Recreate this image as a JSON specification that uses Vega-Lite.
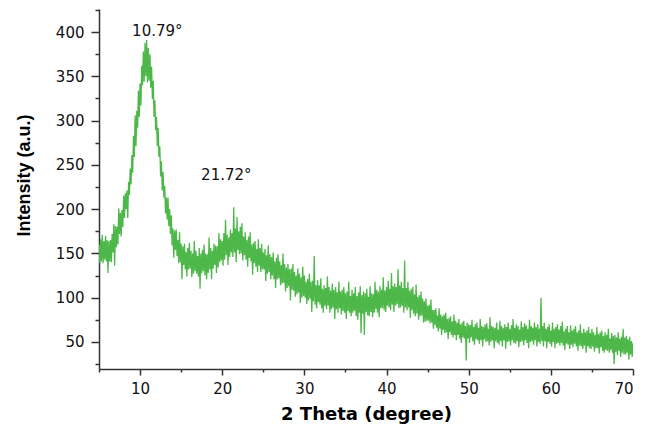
{
"$schema": "https://vega.github.io/schema/vega-lite/v6.json",
"width": 534,
"height": 360,
"autosize": {"type": "none"},
"padding": {"left": 99, "top": 9, "right": 20, "bottom": 57},
"background": "white",
"config": {"view": {"stroke": null}, "font": "DejaVu Sans"},
"resolve": {"axis": {"y": "independent"}},
"layer": [
{
"data": {"values": [
{"x":5.0,"y":160},{"x":5.1,"y":139},{"x":5.2,"y":166},{"x":5.3,"y":141},{"x":5.4,"y":171},{"x":5.5,"y":139},{"x":5.6,"y":164},{"x":5.7,"y":143},{"x":5.8,"y":170},{"x":5.9,"y":141},
{"x":6.0,"y":165},{"x":6.1,"y":128},{"x":6.2,"y":164},{"x":6.3,"y":141},{"x":6.4,"y":165},{"x":6.5,"y":140},{"x":6.6,"y":172},{"x":6.7,"y":151},{"x":6.8,"y":183},{"x":6.9,"y":136},
{"x":7.0,"y":181},{"x":7.1,"y":157},{"x":7.2,"y":180},{"x":7.3,"y":160},{"x":7.4,"y":201},{"x":7.5,"y":172},{"x":7.6,"y":196},{"x":7.7,"y":169},{"x":7.8,"y":199},{"x":7.9,"y":180},
{"x":8.0,"y":215},{"x":8.1,"y":190},{"x":8.2,"y":218},{"x":8.3,"y":200},{"x":8.4,"y":221},{"x":8.5,"y":190},{"x":8.6,"y":231},{"x":8.7,"y":216},{"x":8.8,"y":246},{"x":8.9,"y":228},
{"x":9.0,"y":261},{"x":9.1,"y":241},{"x":9.2,"y":283},{"x":9.3,"y":259},{"x":9.4,"y":306},{"x":9.5,"y":271},{"x":9.6,"y":311},{"x":9.7,"y":292},{"x":9.8,"y":334},{"x":9.9,"y":304},
{"x":10.0,"y":342},{"x":10.1,"y":317},{"x":10.2,"y":362},{"x":10.3,"y":340},{"x":10.4,"y":378},{"x":10.5,"y":344},{"x":10.6,"y":388},{"x":10.7,"y":350},{"x":10.8,"y":391},{"x":10.9,"y":343},
{"x":11.0,"y":382},{"x":11.1,"y":345},{"x":11.2,"y":375},{"x":11.3,"y":337},{"x":11.4,"y":361},{"x":11.5,"y":324},{"x":11.6,"y":345},{"x":11.7,"y":304},{"x":11.8,"y":323},{"x":11.9,"y":289},
{"x":12.0,"y":304},{"x":12.1,"y":271},{"x":12.2,"y":292},{"x":12.3,"y":259},{"x":12.4,"y":271},{"x":12.5,"y":237},{"x":12.6,"y":254},{"x":12.7,"y":221},{"x":12.8,"y":242},{"x":12.9,"y":213},
{"x":13.0,"y":226},{"x":13.1,"y":195},{"x":13.2,"y":213},{"x":13.3,"y":188},{"x":13.4,"y":213},{"x":13.5,"y":181},{"x":13.6,"y":200},{"x":13.7,"y":172},{"x":13.8,"y":193},{"x":13.9,"y":159},
{"x":14.0,"y":178},{"x":14.1,"y":145},{"x":14.2,"y":176},{"x":14.3,"y":154},{"x":14.4,"y":177},{"x":14.5,"y":147},{"x":14.6,"y":165},{"x":14.7,"y":139},{"x":14.8,"y":174},{"x":14.9,"y":140},
{"x":15.0,"y":161},{"x":15.1,"y":121},{"x":15.2,"y":158},{"x":15.3,"y":137},{"x":15.4,"y":161},{"x":15.5,"y":132},{"x":15.6,"y":152},{"x":15.7,"y":124},{"x":15.8,"y":156},{"x":15.9,"y":132},
{"x":16.0,"y":162},{"x":16.1,"y":133},{"x":16.2,"y":153},{"x":16.3,"y":123},{"x":16.4,"y":150},{"x":16.5,"y":127},{"x":16.6,"y":164},{"x":16.7,"y":130},{"x":16.8,"y":153},{"x":16.9,"y":127},
{"x":17.0,"y":147},{"x":17.1,"y":124},{"x":17.2,"y":156},{"x":17.3,"y":110},{"x":17.4,"y":150},{"x":17.5,"y":128},{"x":17.6,"y":154},{"x":17.7,"y":130},{"x":17.8,"y":160},{"x":17.9,"y":125},
{"x":18.0,"y":150},{"x":18.1,"y":121},{"x":18.2,"y":149},{"x":18.3,"y":128},{"x":18.4,"y":168},{"x":18.5,"y":132},{"x":18.6,"y":156},{"x":18.7,"y":121},{"x":18.8,"y":153},{"x":18.9,"y":133},
{"x":19.0,"y":161},{"x":19.1,"y":137},{"x":19.2,"y":159},{"x":19.3,"y":128},{"x":19.4,"y":158},{"x":19.5,"y":134},{"x":19.6,"y":173},{"x":19.7,"y":140},{"x":19.8,"y":166},{"x":19.9,"y":142},
{"x":20.0,"y":164},{"x":20.1,"y":136},{"x":20.2,"y":173},{"x":20.3,"y":143},{"x":20.4,"y":188},{"x":20.5,"y":148},{"x":20.6,"y":171},{"x":20.7,"y":137},{"x":20.8,"y":168},{"x":20.9,"y":146},
{"x":21.0,"y":177},{"x":21.1,"y":151},{"x":21.2,"y":173},{"x":21.3,"y":146},{"x":21.4,"y":202},{"x":21.5,"y":151},{"x":21.6,"y":178},{"x":21.7,"y":140},{"x":21.8,"y":191},{"x":21.9,"y":154},
{"x":22.0,"y":175},{"x":22.1,"y":149},{"x":22.2,"y":180},{"x":22.3,"y":150},{"x":22.4,"y":184},{"x":22.5,"y":142},{"x":22.6,"y":169},{"x":22.7,"y":148},{"x":22.8,"y":174},{"x":22.9,"y":143},
{"x":23.0,"y":165},{"x":23.1,"y":135},{"x":23.2,"y":169},{"x":23.3,"y":145},{"x":23.4,"y":174},{"x":23.5,"y":141},{"x":23.6,"y":160},{"x":23.7,"y":126},{"x":23.8,"y":162},{"x":23.9,"y":139},
{"x":24.0,"y":164},{"x":24.1,"y":135},{"x":24.2,"y":155},{"x":24.3,"y":129},{"x":24.4,"y":166},{"x":24.5,"y":136},{"x":24.6,"y":156},{"x":24.7,"y":129},{"x":24.8,"y":161},{"x":24.9,"y":132},
{"x":25.0,"y":151},{"x":25.1,"y":132},{"x":25.2,"y":155},{"x":25.3,"y":119},{"x":25.4,"y":148},{"x":25.5,"y":127},{"x":25.6,"y":159},{"x":25.7,"y":129},{"x":25.8,"y":149},{"x":25.9,"y":121},
{"x":26.0,"y":146},{"x":26.1,"y":125},{"x":26.2,"y":151},{"x":26.3,"y":121},{"x":26.4,"y":141},{"x":26.5,"y":111},{"x":26.6,"y":145},{"x":26.7,"y":121},{"x":26.8,"y":149},{"x":26.9,"y":122},
{"x":27.0,"y":141},{"x":27.1,"y":114},{"x":27.2,"y":137},{"x":27.3,"y":116},{"x":27.4,"y":150},{"x":27.5,"y":117},{"x":27.6,"y":138},{"x":27.7,"y":107},{"x":27.8,"y":134},{"x":27.9,"y":111},
{"x":28.0,"y":138},{"x":28.1,"y":113},{"x":28.2,"y":132},{"x":28.3,"y":97},{"x":28.4,"y":133},{"x":28.5,"y":109},{"x":28.6,"y":138},{"x":28.7,"y":108},{"x":28.8,"y":129},{"x":28.9,"y":101},
{"x":29.0,"y":125},{"x":29.1,"y":104},{"x":29.2,"y":133},{"x":29.3,"y":106},{"x":29.4,"y":127},{"x":29.5,"y":94},{"x":29.6,"y":123},{"x":29.7,"y":100},{"x":29.8,"y":135},{"x":29.9,"y":102},
{"x":30.0,"y":125},{"x":30.1,"y":100},{"x":30.2,"y":118},{"x":30.3,"y":93},{"x":30.4,"y":121},{"x":30.5,"y":97},{"x":30.6,"y":127},{"x":30.7,"y":99},{"x":30.8,"y":118},{"x":30.9,"y":84},
{"x":31.0,"y":119},{"x":31.1,"y":96},{"x":31.2,"y":147},{"x":31.3,"y":92},{"x":31.4,"y":114},{"x":31.5,"y":88},{"x":31.6,"y":120},{"x":31.7,"y":95},{"x":31.8,"y":114},{"x":31.9,"y":92},
{"x":32.0,"y":122},{"x":32.1,"y":88},{"x":32.2,"y":110},{"x":32.3,"y":83},{"x":32.4,"y":114},{"x":32.5,"y":91},{"x":32.6,"y":111},{"x":32.7,"y":87},{"x":32.8,"y":124},{"x":32.9,"y":91},
{"x":33.0,"y":112},{"x":33.1,"y":83},{"x":33.2,"y":108},{"x":33.3,"y":87},{"x":33.4,"y":116},{"x":33.5,"y":89},{"x":33.6,"y":109},{"x":33.7,"y":76},{"x":33.8,"y":112},{"x":33.9,"y":87},
{"x":34.0,"y":106},{"x":34.1,"y":83},{"x":34.2,"y":118},{"x":34.3,"y":88},{"x":34.4,"y":107},{"x":34.5,"y":81},{"x":34.6,"y":109},{"x":34.7,"y":85},{"x":34.8,"y":112},{"x":34.9,"y":83},
{"x":35.0,"y":105},{"x":35.1,"y":76},{"x":35.2,"y":107},{"x":35.3,"y":85},{"x":35.4,"y":118},{"x":35.5,"y":83},{"x":35.6,"y":102},{"x":35.7,"y":79},{"x":35.8,"y":109},{"x":35.9,"y":83},
{"x":36.0,"y":105},{"x":36.1,"y":85},{"x":36.2,"y":112},{"x":36.3,"y":79},{"x":36.4,"y":102},{"x":36.5,"y":75},{"x":36.6,"y":106},{"x":36.7,"y":83},{"x":36.8,"y":113},{"x":36.9,"y":60},
{"x":37.0,"y":103},{"x":37.1,"y":82},{"x":37.2,"y":107},{"x":37.3,"y":58},{"x":37.4,"y":105},{"x":37.5,"y":84},{"x":37.6,"y":110},{"x":37.7,"y":80},{"x":37.8,"y":101},{"x":37.9,"y":79},
{"x":38.0,"y":113},{"x":38.1,"y":84},{"x":38.2,"y":105},{"x":38.3,"y":78},{"x":38.4,"y":104},{"x":38.5,"y":83},{"x":38.6,"y":118},{"x":38.7,"y":87},{"x":38.8,"y":109},{"x":38.9,"y":83},
{"x":39.0,"y":107},{"x":39.1,"y":78},{"x":39.2,"y":113},{"x":39.3,"y":88},{"x":39.4,"y":109},{"x":39.5,"y":88},{"x":39.6,"y":123},{"x":39.7,"y":86},{"x":39.8,"y":108},{"x":39.9,"y":84},
{"x":40.0,"y":112},{"x":40.1,"y":91},{"x":40.2,"y":119},{"x":40.3,"y":89},{"x":40.4,"y":110},{"x":40.5,"y":86},{"x":40.6,"y":128},{"x":40.7,"y":92},{"x":40.8,"y":113},{"x":40.9,"y":84},
{"x":41.0,"y":116},{"x":41.1,"y":91},{"x":41.2,"y":112},{"x":41.3,"y":93},{"x":41.4,"y":132},{"x":41.5,"y":88},{"x":41.6,"y":114},{"x":41.7,"y":89},{"x":41.8,"y":118},{"x":41.9,"y":91},
{"x":42.0,"y":111},{"x":42.1,"y":83},{"x":42.2,"y":142},{"x":42.3,"y":89},{"x":42.4,"y":111},{"x":42.5,"y":86},{"x":42.6,"y":118},{"x":42.7,"y":89},{"x":42.8,"y":108},{"x":42.9,"y":77},
{"x":43.0,"y":110},{"x":43.1,"y":86},{"x":43.2,"y":112},{"x":43.3,"y":82},{"x":43.4,"y":104},{"x":43.5,"y":79},{"x":43.6,"y":115},{"x":43.7,"y":82},{"x":43.8,"y":101},{"x":43.9,"y":75},
{"x":44.0,"y":103},{"x":44.1,"y":79},{"x":44.2,"y":107},{"x":44.3,"y":80},{"x":44.4,"y":99},{"x":44.5,"y":72},{"x":44.6,"y":96},{"x":44.7,"y":73},{"x":44.8,"y":99},{"x":44.9,"y":74},
{"x":45.0,"y":91},{"x":45.1,"y":74},{"x":45.2,"y":92},{"x":45.3,"y":71},{"x":45.4,"y":98},{"x":45.5,"y":72},{"x":45.6,"y":86},{"x":45.7,"y":65},{"x":45.8,"y":86},{"x":45.9,"y":69},
{"x":46.0,"y":88},{"x":46.1,"y":66},{"x":46.2,"y":80},{"x":46.3,"y":62},{"x":46.4,"y":88},{"x":46.5,"y":65},{"x":46.6,"y":81},{"x":46.7,"y":58},{"x":46.8,"y":79},{"x":46.9,"y":64},
{"x":47.0,"y":81},{"x":47.1,"y":60},{"x":47.2,"y":83},{"x":47.3,"y":61},{"x":47.4,"y":76},{"x":47.5,"y":53},{"x":47.6,"y":77},{"x":47.7,"y":61},{"x":47.8,"y":79},{"x":47.9,"y":58},
{"x":48.0,"y":73},{"x":48.1,"y":55},{"x":48.2,"y":81},{"x":48.3,"y":58},{"x":48.4,"y":74},{"x":48.5,"y":52},{"x":48.6,"y":72},{"x":48.7,"y":58},{"x":48.8,"y":76},{"x":48.9,"y":54},
{"x":49.0,"y":70},{"x":49.1,"y":49},{"x":49.2,"y":72},{"x":49.3,"y":55},{"x":49.4,"y":74},{"x":49.5,"y":54},{"x":49.6,"y":68},{"x":49.7,"y":29},{"x":49.8,"y":72},{"x":49.9,"y":54},
{"x":50.0,"y":70},{"x":50.1,"y":49},{"x":50.2,"y":69},{"x":50.3,"y":55},{"x":50.4,"y":75},{"x":50.5,"y":51},{"x":50.6,"y":67},{"x":50.7,"y":47},{"x":50.8,"y":70},{"x":50.9,"y":53},
{"x":51.0,"y":72},{"x":51.1,"y":52},{"x":51.2,"y":66},{"x":51.3,"y":48},{"x":51.4,"y":76},{"x":51.5,"y":52},{"x":51.6,"y":68},{"x":51.7,"y":45},{"x":51.8,"y":67},{"x":51.9,"y":53},
{"x":52.0,"y":70},{"x":52.1,"y":50},{"x":52.2,"y":71},{"x":52.3,"y":51},{"x":52.4,"y":65},{"x":52.5,"y":46},{"x":52.6,"y":78},{"x":52.7,"y":50},{"x":52.8,"y":68},{"x":52.9,"y":52},
{"x":53.0,"y":67},{"x":53.1,"y":43},{"x":53.2,"y":66},{"x":53.3,"y":51},{"x":53.4,"y":72},{"x":53.5,"y":49},{"x":53.6,"y":64},{"x":53.7,"y":47},{"x":53.8,"y":74},{"x":53.9,"y":51},
{"x":54.0,"y":68},{"x":54.1,"y":45},{"x":54.2,"y":66},{"x":54.3,"y":52},{"x":54.4,"y":70},{"x":54.5,"y":42},{"x":54.6,"y":67},{"x":54.7,"y":50},{"x":54.8,"y":72},{"x":54.9,"y":51},
{"x":55.0,"y":65},{"x":55.1,"y":46},{"x":55.2,"y":69},{"x":55.3,"y":52},{"x":55.4,"y":76},{"x":55.5,"y":49},{"x":55.6,"y":66},{"x":55.7,"y":48},{"x":55.8,"y":70},{"x":55.9,"y":51},
{"x":56.0,"y":68},{"x":56.1,"y":44},{"x":56.2,"y":64},{"x":56.3,"y":50},{"x":56.4,"y":73},{"x":56.5,"y":51},{"x":56.6,"y":67},{"x":56.7,"y":46},{"x":56.8,"y":71},{"x":56.9,"y":52},
{"x":57.0,"y":69},{"x":57.1,"y":49},{"x":57.2,"y":65},{"x":57.3,"y":43},{"x":57.4,"y":75},{"x":57.5,"y":50},{"x":57.6,"y":68},{"x":57.7,"y":51},{"x":57.8,"y":66},{"x":57.9,"y":47},
{"x":58.0,"y":72},{"x":58.1,"y":52},{"x":58.2,"y":67},{"x":58.3,"y":45},{"x":58.4,"y":70},{"x":58.5,"y":50},{"x":58.6,"y":65},{"x":58.7,"y":48},{"x":58.8,"y":100},{"x":58.9,"y":51},
{"x":59.0,"y":68},{"x":59.1,"y":45},{"x":59.2,"y":72},{"x":59.3,"y":51},{"x":59.4,"y":65},{"x":59.5,"y":43},{"x":59.6,"y":67},{"x":59.7,"y":50},{"x":59.8,"y":70},{"x":59.9,"y":48},
{"x":60.0,"y":63},{"x":60.1,"y":45},{"x":60.2,"y":72},{"x":60.3,"y":50},{"x":60.4,"y":65},{"x":60.5,"y":43},{"x":60.6,"y":67},{"x":60.7,"y":48},{"x":60.8,"y":70},{"x":60.9,"y":49},
{"x":61.0,"y":64},{"x":61.1,"y":46},{"x":61.2,"y":68},{"x":61.3,"y":49},{"x":61.4,"y":73},{"x":61.5,"y":46},{"x":61.6,"y":62},{"x":61.7,"y":41},{"x":61.8,"y":65},{"x":61.9,"y":48},
{"x":62.0,"y":68},{"x":62.1,"y":47},{"x":62.2,"y":61},{"x":62.3,"y":42},{"x":62.4,"y":69},{"x":62.5,"y":47},{"x":62.6,"y":63},{"x":62.7,"y":44},{"x":62.8,"y":65},{"x":62.9,"y":48},
{"x":63.0,"y":68},{"x":63.1,"y":45},{"x":63.2,"y":61},{"x":63.3,"y":40},{"x":63.4,"y":63},{"x":63.5,"y":46},{"x":63.6,"y":70},{"x":63.7,"y":45},{"x":63.8,"y":60},{"x":63.9,"y":42},
{"x":64.0,"y":65},{"x":64.1,"y":46},{"x":64.2,"y":61},{"x":64.3,"y":38},{"x":64.4,"y":63},{"x":64.5,"y":45},{"x":64.6,"y":67},{"x":64.7,"y":43},{"x":64.8,"y":60},{"x":64.9,"y":42},
{"x":65.0,"y":65},{"x":65.1,"y":45},{"x":65.2,"y":61},{"x":65.3,"y":39},{"x":65.4,"y":58},{"x":65.5,"y":43},{"x":65.6,"y":67},{"x":65.7,"y":43},{"x":65.8,"y":59},{"x":65.9,"y":37},
{"x":66.0,"y":61},{"x":66.1,"y":44},{"x":66.2,"y":63},{"x":66.3,"y":40},{"x":66.4,"y":57},{"x":66.5,"y":38},{"x":66.6,"y":61},{"x":66.7,"y":41},{"x":66.8,"y":58},{"x":66.9,"y":40},
{"x":67.0,"y":65},{"x":67.1,"y":38},{"x":67.2,"y":54},{"x":67.3,"y":41},{"x":67.4,"y":60},{"x":67.5,"y":38},{"x":67.6,"y":57},{"x":67.7,"y":25},{"x":67.8,"y":58},{"x":67.9,"y":39},
{"x":68.0,"y":55},{"x":68.1,"y":35},{"x":68.2,"y":61},{"x":68.3,"y":40},{"x":68.4,"y":54},{"x":68.5,"y":33},{"x":68.6,"y":56},{"x":68.7,"y":38},{"x":68.8,"y":65},{"x":68.9,"y":36},
{"x":69.0,"y":55},{"x":69.1,"y":36},{"x":69.2,"y":57},{"x":69.3,"y":38},{"x":69.4,"y":53},{"x":69.5,"y":30},{"x":69.6,"y":56},{"x":69.7,"y":36},{"x":69.8,"y":51},{"x":69.9,"y":33},
{"x":70.0,"y":49}
]},
"mark": {"type": "line", "color": "#4DB849", "strokeWidth": 1.3, "clip": true},
"encoding": {
"x": {"field": "x", "type": "quantitative",
"scale": {"domain": [5, 70], "nice": false, "zero": false},
"axis": {"values": [5,10,15,20,25,30,35,40,45,50,55,60,65,70],
"labelExpr": "datum.value % 10 === 0 ? datum.label : ''",
"tickSize": {"condition": {"test": "datum.value % 10 === 0", "value": 6}, "value": 3},
"grid": false, "domainColor": "#333333", "domainWidth": 1.5, "tickColor": "#333333", "tickWidth": 1.5,
"labelFont": "DejaVu Sans", "labelFontSize": 15, "labelColor": "#111111", "labelPadding": 6,
"title": "2 Theta (degree)", "titleFont": "DejaVu Sans", "titleFontSize": 18, "titleFontWeight": "bold", "titleColor": "#000000", "titlePadding": 9}},
"y": {"field": "y", "type": "quantitative",
"scale": {"domain": [19.5, 426], "nice": false, "zero": false},
"axis": {"orient": "left", "values": [50,100,150,200,250,300,350,400],
"tickSize": 8, "labelOverlap": false,
"grid": false, "domainColor": "#333333", "domainWidth": 1.5, "tickColor": "#333333", "tickWidth": 1.5,
"labelFont": "DejaVu Sans", "labelFontSize": 15, "labelColor": "#111111", "labelPadding": 7,
"title": "Intensity (a.u.)", "titleFont": "Liberation Sans", "titleFontSize": 18, "titleFontWeight": "bold", "titleColor": "#000000",
"titleX": -66, "titleY": 166, "titleBaseline": "bottom", "titleAngle": -90}}
}
},
{
"data": {"values": [{"x": 12.1, "y": 401, "label": "10.79°"}, {"x": 20.5, "y": 239, "label": "21.72°"}]},
"mark": {"type": "text", "font": "DejaVu Sans", "fontSize": 15, "color": "#111111", "align": "center", "baseline": "middle"},
"encoding": {
"x": {"field": "x", "type": "quantitative"},
"y": {"field": "y", "type": "quantitative",
"axis": {"orient": "left", "values": [25,75,125,175,225,275,325,375,425], "labels": false, "domain": false, "grid": false, "title": null,
"tickSize": 4, "tickColor": "#333333", "tickWidth": 1.5}},
"text": {"field": "label"}
}
}
]
}
